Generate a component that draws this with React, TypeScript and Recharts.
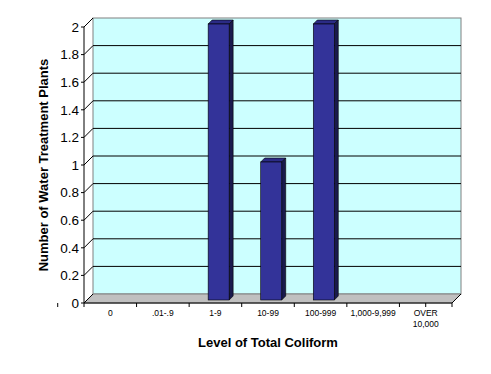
import React from 'react'
import { BarChart, Bar, XAxis, YAxis, CartesianGrid } from 'recharts'

const levels = ['0', '.01-.9', '1-9', '10-99', '100-999', '1,000-9,999', 'OVER 10,000']
const plants = [0, 0, 2, 1, 2, 0, 0]
const yTicks = [0, 0.2, 0.4, 0.6, 0.8, 1, 1.2, 1.4, 1.6, 1.8, 2]

const data = levels.map((level, i) => ({ level, plants: plants[i] }))

const DEPTH = 9 // 3d wall offset
const font = 'Arial, "Liberation Sans", sans-serif'

// back wall + floor, drawn once from the grid box
function Wall(props: any) {
  if (props.index !== 0) return <g key={props.key} />
  const { x, y, width, height } = props
  const b = y + height
  return (
    <g key={props.key}>
      <rect x={x + DEPTH} y={y - DEPTH} width={width} height={height} fill="#ccffff" stroke="#808080" />
      <polygon
        points={`${x},${b} ${x + DEPTH},${b - DEPTH} ${x + width + DEPTH},${b - DEPTH} ${x + width},${b}`}
        fill="#c0c0c0"
        stroke="#808080"
      />
      <line x1={x + width} y1={b} x2={x + width + DEPTH} y2={b - DEPTH} stroke="#000" />
    </g>
  )
}

function GridLine(props: any) {
  const { x1, y1, x2, y, height } = props
  const isEdge = Math.abs(y1 - y) < 0.5 || Math.abs(y1 - (y + height)) < 0.5
  return (
    <g key={props.key}>
      {!isEdge && <line x1={x1 + DEPTH} y1={y1 - DEPTH} x2={x2 + DEPTH} y2={y1 - DEPTH} stroke="#000" />}
      <line x1={x1} y1={y1} x2={x1 + DEPTH} y2={y1 - DEPTH} stroke="#000" />
    </g>
  )
}

// category boundary ticks under the x axis
function BoundaryTick(props: any) {
  const { x1, y2, x, width, index } = props
  const half = width / levels.length / 2
  return (
    <g key={props.key}>
      <line x1={x1 - half} y1={y2} x2={x1 - half} y2={y2 + 4} stroke="#000" />
      {index === levels.length - 1 && (
        <line x1={x + width} y1={y2} x2={x + width} y2={y2 + 4} stroke="#000" />
      )}
    </g>
  )
}

function LevelTick(props: any) {
  const { x, y, payload } = props
  const parts = String(payload.value).split(' ')
  return (
    <text x={x} y={y} textAnchor="middle" fontSize={8.5} fontFamily={font} fill="#000">
      {parts.map((p, i) => (
        <tspan key={i} x={x} dy={i === 0 ? 5 : 11}>
          {p}
        </tspan>
      ))}
    </text>
  )
}

function Bar3D(props: any) {
  const { x, y, width, height } = props
  if (!height) return <g />
  const fx = x + 3
  const fy = y - 3
  const d = 4
  return (
    <g stroke="#000" strokeWidth={0.6}>
      <polygon
        points={`${fx},${fy} ${fx + d},${fy - d} ${fx + width + d},${fy - d} ${fx + width},${fy}`}
        fill="#2b2b85"
      />
      <polygon
        points={`${fx + width},${fy} ${fx + width + d},${fy - d} ${fx + width + d},${fy + height - d} ${fx + width},${fy + height}`}
        fill="#1a1a4d"
      />
      <rect x={fx} y={fy} width={width} height={height} fill="#333399" />
    </g>
  )
}

export default function App() {
  return (
    <div style={{ position: 'absolute', left: 0, top: 0, background: '#fff' }}>
      <BarChart width={491} height={374} data={data} margin={{ top: 27, right: 39, left: 0, bottom: 0 }}>
        <CartesianGrid horizontal={Wall} vertical={false} />
        <CartesianGrid horizontal={GridLine} vertical={BoundaryTick} />
        <XAxis
          dataKey="level"
          interval={0}
          height={71}
          tickLine={false}
          axisLine={{ stroke: '#000' }}
          tick={<LevelTick />}
          label={{
            value: 'Level of Total Coliform',
            position: 'center',
            dy: 4,
            fontSize: 13,
            fontWeight: 'bold',
            fontFamily: font,
            fill: '#000',
          }}
        />
        <YAxis
          width={84}
          domain={[0, 2]}
          ticks={yTicks}
          interval={0}
          tickSize={3}
          tickMargin={2}
          axisLine={{ stroke: '#000' }}
          tickLine={{ stroke: '#000' }}
          tick={{ fontSize: 13.5, fontFamily: font, fill: '#000' }}
          label={{
            value: 'Number of Water Treatment Plants',
            angle: -90,
            position: 'center',
            dx: 1,
            fontSize: 13,
            fontWeight: 'bold',
            fontFamily: font,
            fill: '#000',
          }}
        />
        <Bar dataKey="plants" barSize={21} shape={<Bar3D />} isAnimationActive={false} />
      </BarChart>
    </div>
  )
}
